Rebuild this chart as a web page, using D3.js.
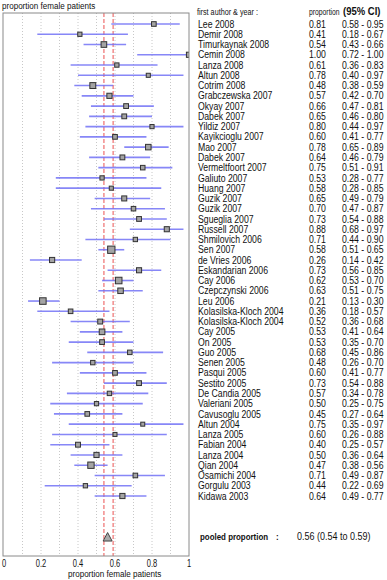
<!DOCTYPE html>
<html>
<head>
<meta charset="utf-8">
<script src="https://cdn.jsdelivr.net/npm/d3@7"></script>
<style>
  body { margin: 0; background: #fff; }
  text { font-family: Arial, "Liberation Sans", sans-serif; fill: #111; }
</style>
</head>
<body>
<div id="chart"></div>
<script>
// study rows, top to bottom
var authors = ["Lee 2008", "Demir 2008", "Timurkaynak 2008", "Cemin 2008", "Lanza 2008", "Altun 2008",
  "Cotrim 2008", "Grabczewska 2007", "Okyay 2007", "Dabek 2007", "Yildiz 2007", "Kayikcioglu 2007",
  "Mao 2007", "Dabek 2007", "Vermeltfoort 2007", "Galiuto 2007", "Huang 2007", "Guzik 2007",
  "Guzik 2007", "Sgueglia 2007", "Russell 2007", "Shmilovich 2006", "Sen 2007", "de Vries 2006",
  "Eskandarian 2006", "Cay 2006", "Czepczynski 2006", "Leu 2006", "Kolasilska-Kloch 2004",
  "Kolasilska-Kloch 2004", "Cay 2005", "On 2005", "Guo 2005", "Senen 2005", "Pasqui 2005",
  "Sestito 2005", "De Candia 2005", "Valeriani 2005", "Cavusoglu 2005", "Altun 2004", "Lanza 2005",
  "Fabian 2004", "Lanza 2004", "Qian 2004", "Osamichi 2004", "Gorgulu 2003", "Kidawa 2003"];
var props = [0.81, 0.41, 0.54, 1.00, 0.61, 0.78, 0.48, 0.57, 0.66, 0.65, 0.80, 0.60,
  0.78, 0.64, 0.75, 0.53, 0.58, 0.65, 0.70, 0.73, 0.88, 0.71, 0.58, 0.26,
  0.73, 0.62, 0.63, 0.21, 0.36, 0.52, 0.53, 0.53, 0.68, 0.48, 0.60,
  0.73, 0.57, 0.50, 0.45, 0.75, 0.60, 0.40, 0.50, 0.47, 0.71, 0.44, 0.64];
var lows = [0.58, 0.18, 0.43, 0.72, 0.36, 0.40, 0.38, 0.42, 0.47, 0.46, 0.44, 0.41,
  0.65, 0.46, 0.51, 0.28, 0.28, 0.49, 0.47, 0.54, 0.68, 0.44, 0.51, 0.14,
  0.56, 0.53, 0.51, 0.13, 0.18, 0.36, 0.41, 0.35, 0.45, 0.26, 0.41,
  0.54, 0.34, 0.25, 0.27, 0.35, 0.26, 0.25, 0.36, 0.38, 0.49, 0.22, 0.49];
var highs = [0.95, 0.67, 0.66, 1.00, 0.83, 0.97, 0.59, 0.70, 0.81, 0.80, 0.97, 0.77,
  0.89, 0.79, 0.91, 0.77, 0.85, 0.79, 0.87, 0.88, 0.97, 0.90, 0.65, 0.42,
  0.85, 0.70, 0.75, 0.30, 0.57, 0.68, 0.64, 0.70, 0.86, 0.70, 0.77,
  0.88, 0.78, 0.75, 0.64, 0.97, 0.88, 0.57, 0.64, 0.56, 0.87, 0.69, 0.77];

var pooled = [0.56, 0.54, 0.59]; // estimate, lower, upper
var xTicks = [0, 0.2, 0.4, 0.6, 0.8, 1];
var gridTicks = [0.1, 0.2, 0.3, 0.4, 0.5, 0.6, 0.7, 0.8, 0.9];

var width = 387, height = 580;
var frameTop = 13, frameBottom = 556;

var svg = d3.select("#chart").append("svg")
    .attr("width", width)
    .attr("height", height);

var x = d3.scaleLinear().domain([0, 1]).range([4, 189]);
// row index -> y, pooled row sits at index 50
var y = d3.scaleLinear().domain([0, authors.length - 1]).range([24, 496]);
var pooledRow = 50;

var rows = authors.map(function(a, i) {
  return { author: a, p: props[i], lo: lows[i], hi: highs[i], i: i,
           w: 1 / Math.pow(highs[i] - lows[i], 2) };
});

var boxSize = d3.scaleSqrt()
    .domain(d3.extent(rows, function(d) { return d.w; }))
    .range([4, 7.3]);

// text in the reference is a bit squeezed sideways
function label(parent, tx, ty, str, size, sx, anchor, weight) {
  parent.append("g")
      .attr("transform", "translate(" + tx + "," + ty + ") scale(" + sx + ",1)")
    .append("text")
      .attr("font-size", size + "px")
      .attr("font-weight", weight || "normal")
      .attr("text-anchor", anchor || "start")
      .text(str);
}

svg.append("clipPath").attr("id", "plotclip")
  .append("rect")
    .attr("x", x(0) - 1).attr("y", frameTop)
    .attr("width", x(1) - x(0) + 1).attr("height", frameBottom - frameTop);

var plot = svg.append("g").attr("clip-path", "url(#plotclip)");

// dotted grid
plot.selectAll(".grid")
    .data(gridTicks)
  .enter().append("line")
    .attr("class", "grid")
    .attr("x1", function(d) { return x(d); })
    .attr("x2", function(d) { return x(d); })
    .attr("y1", frameTop)
    .attr("y2", frameBottom)
    .attr("stroke", "#c8c8c8")
    .attr("stroke-width", 1)
    .attr("stroke-dasharray", "1,2");

// pooled CI lines
plot.selectAll(".pooledline")
    .data([pooled[1], pooled[2]])
  .enter().append("line")
    .attr("x1", function(d) { return x(d); })
    .attr("x2", function(d) { return x(d); })
    .attr("y1", frameTop)
    .attr("y2", frameBottom)
    .attr("stroke", "#f28c8c")
    .attr("stroke-width", 1.5)
    .attr("stroke-dasharray", "4,2");

// CI whiskers
plot.selectAll(".ci")
    .data(rows)
  .enter().append("line")
    .attr("x1", function(d) { return x(d.lo); })
    .attr("x2", function(d) { return x(d.hi); })
    .attr("y1", function(d) { return y(d.i); })
    .attr("y2", function(d) { return y(d.i); })
    .attr("stroke", "#7272f6")
    .attr("stroke-opacity", 0.85)
    .attr("stroke-width", 1.6);

// study boxes
plot.selectAll(".box")
    .data(rows)
  .enter().append("rect")
    .attr("x", function(d) { return x(d.p) - boxSize(d.w) / 2; })
    .attr("y", function(d) { return y(d.i) - boxSize(d.w) / 2; })
    .attr("width", function(d) { return boxSize(d.w); })
    .attr("height", function(d) { return boxSize(d.w); })
    .attr("fill", "#a4a4a4")
    .attr("stroke", "#333")
    .attr("stroke-width", 1);

// pooled triangle
var tx = x(pooled[0]), ty = y(pooledRow);
plot.append("path")
    .attr("d", "M" + (tx - 4.5) + "," + (ty + 4) + "L" + tx + "," + (ty - 4.5) + "L" + (tx + 4.5) + "," + (ty + 4) + "Z")
    .attr("fill", "#aaa")
    .attr("stroke", "#444")
    .attr("stroke-width", 1);

// frame
svg.append("rect")
    .attr("x", x(0) - 1).attr("y", frameTop)
    .attr("width", x(1) - x(0) + 1).attr("height", frameBottom - frameTop)
    .attr("fill", "none")
    .attr("stroke", "#8a8a8a")
    .attr("stroke-width", 1);

// x tick labels
xTicks.forEach(function(t) {
  label(svg, x(t), 567, t === 0 ? "0" : t === 1 ? "1" : d3.format(".1f")(t), 10, 0.75, "middle");
});

label(svg, 68, 577, "proportion female patients", 9.5, 0.85);
label(svg, 2, 9, "proportion female patients", 9.5, 0.85);

// right-hand table
label(svg, 197, 15, "first author & year :", 8.5, 0.85);
label(svg, 309, 15, "proportion", 8.5, 0.8);
label(svg, 343, 15, "(95% CI)", 10, 0.95, "start", "bold");

rows.forEach(function(d) {
  var ry = y(d.i) + 3.6;
  label(svg, 198, ry, d.author, 10, 0.87);
  label(svg, 309, ry, d.p.toFixed(2), 10, 0.87);
  label(svg, 342, ry, d.lo.toFixed(2) + " - " + d.hi.toFixed(2), 10, 0.87);
});

var py = y(pooledRow) + 3;
label(svg, 200, py, "pooled proportion", 9, 0.88, "start", "bold");
label(svg, 276, py, ":", 9, 0.88, "start", "bold");
label(svg, 297, py, pooled[0].toFixed(2) + " (" + pooled[1].toFixed(2) + " to " + pooled[2].toFixed(2) + ")", 10, 0.9);
</script>
</body>
</html>
